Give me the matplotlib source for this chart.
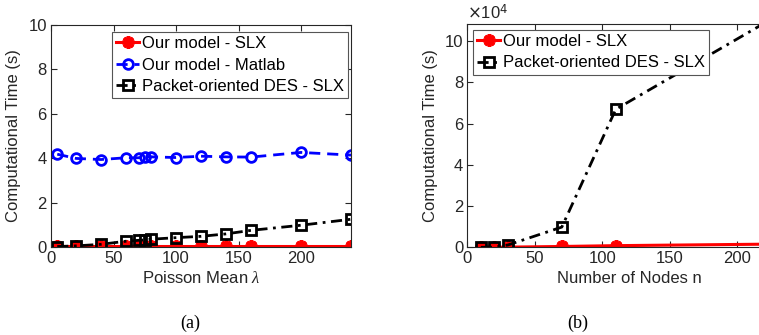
import matplotlib
matplotlib.use("Agg")
import matplotlib.pyplot as plt
import numpy as np

plt.rcParams['font.family'] = ['Liberation Sans', 'DejaVu Sans']
plt.rcParams['mathtext.fontset'] = 'custom'
plt.rcParams['mathtext.it'] = 'Liberation Serif:italic'

# Panel (a)
lam = [5, 20, 40, 60, 70, 75, 80, 100, 120, 140, 160, 200, 240]
a_slx = [0.03, 0.03, 0.03, 0.03, 0.03, 0.03, 0.03, 0.03, 0.03, 0.03, 0.03, 0.03, 0.03]
a_matlab = [4.18, 3.99, 3.94, 4.02, 4.02, 4.05, 4.06, 4.03, 4.09, 4.06, 4.05, 4.26, 4.14]
a_des = [0.02, 0.05, 0.12, 0.26, 0.30, 0.32, 0.35, 0.42, 0.48, 0.59, 0.75, 0.98, 1.25]

# Panel (b)
nodes = [10, 20, 30, 70, 110, 250]
b_slx = [20, 40, 80, 400, 800, 1700]
b_des = [0, 50, 1100, 9800, 66900, 120000]

labels_a = ['Our model - SLX', 'Our model - Matlab', 'Packet-oriented DES - SLX']
labels_b = ['Our model - SLX', 'Packet-oriented DES - SLX']

W, H = 759, 335
fig = plt.figure(figsize=(W / 100, H / 100), dpi=100)

axc = '#262626'
fs = 12

def style(ax):
    for s in ax.spines.values():
        s.set_color(axc)
        s.set_linewidth(0.8)
    ax.tick_params(direction='in', length=4, width=0.8, colors=axc, labelsize=fs,
                   top=True, right=True, pad=3)

ast = (8, 2, 0)
dash = (0, (4, 2.5))
dashdot = (0, (4, 2, 1, 2))
ms_m = 7
ms_a = 9

def legend(ax, loc, anchor):
    leg = ax.legend(loc=loc, bbox_to_anchor=anchor, fontsize=fs,
                    handlelength=1.4, handletextpad=0.15, borderpad=0.25, labelspacing=0.38,
                    fancybox=False, framealpha=1, edgecolor='#555555', borderaxespad=0)
    leg.get_frame().set_linewidth(0.8)
    return leg

# Left axes: x 51..351, y 25..247
ax1 = fig.add_axes([51 / W, 1 - 247 / H, 300 / W, 222 / H])
ax1.plot(lam, a_slx, color='red', lw=2.2, marker=ast, ms=ms_a, mew=2.6, label=labels_a[0])
ax1.plot(lam, a_matlab, color='blue', lw=2, ls=dash, marker='o', ms=ms_m, mew=2,
         mfc='none', label=labels_a[1])
ax1.plot(lam, a_des, color='black', lw=2, ls=dashdot, marker='s', ms=ms_m, mew=2,
         mfc='none', label=labels_a[2])
ax1.set_xlim(0, 240)
ax1.set_ylim(0, 10)
ax1.set_xticks([0, 50, 100, 150, 200])
ax1.set_yticks([0, 2, 4, 6, 8, 10])
style(ax1)
ax1.set_xlabel(r'Poisson Mean $\lambda$', fontsize=fs, color=axc, labelpad=3)
ax1.set_ylabel('Computational Time (s)', fontsize=fs, color=axc, labelpad=5)
legend(ax1, 'upper right', (0.99, 0.968))

# Right axes: x 467..(beyond edge), y 24..247
x0 = 467.3
px_per = 1.35
xmax = 240
ax2 = fig.add_axes([x0 / W, 1 - 247.3 / H, (xmax * px_per) / W, 223 / H])
ax2.plot(nodes, b_slx, color='red', lw=2.2, marker=ast, ms=ms_a, mew=2.6, label=labels_b[0])
ax2.plot(nodes, b_des, color='black', lw=2, ls=dashdot, marker='s', ms=ms_m, mew=2,
         mfc='none', label=labels_b[1])
ax2.set_xlim(0, xmax)
ax2.set_ylim(0, 108100)
ax2.set_xticks([0, 50, 100, 150, 200])
ax2.set_yticks([0, 20000, 40000, 60000, 80000, 100000])
ax2.set_yticklabels(['0', '2', '4', '6', '8', '10'])
style(ax2)
ax2.text(0, 1.01, r'$\times$10$^4$', transform=ax2.transAxes, fontsize=fs, color=axc,
         ha='left', va='bottom')
ax2.set_xlabel('Number of Nodes n', fontsize=fs, color=axc, labelpad=3)
ax2.set_ylabel('Computational Time (s)', fontsize=fs, color=axc, labelpad=5)
legend(ax2, 'upper left', (0.017, 0.975))

# Captions
fig.text(190 / W, 1 - 323 / H, '(a)', fontsize=13, family='Liberation Serif',
         ha='center', va='center')
fig.text(578 / W, 1 - 323 / H, '(b)', fontsize=13, family='Liberation Serif',
         ha='center', va='center')

fig.savefig('out.png', dpi=100)
